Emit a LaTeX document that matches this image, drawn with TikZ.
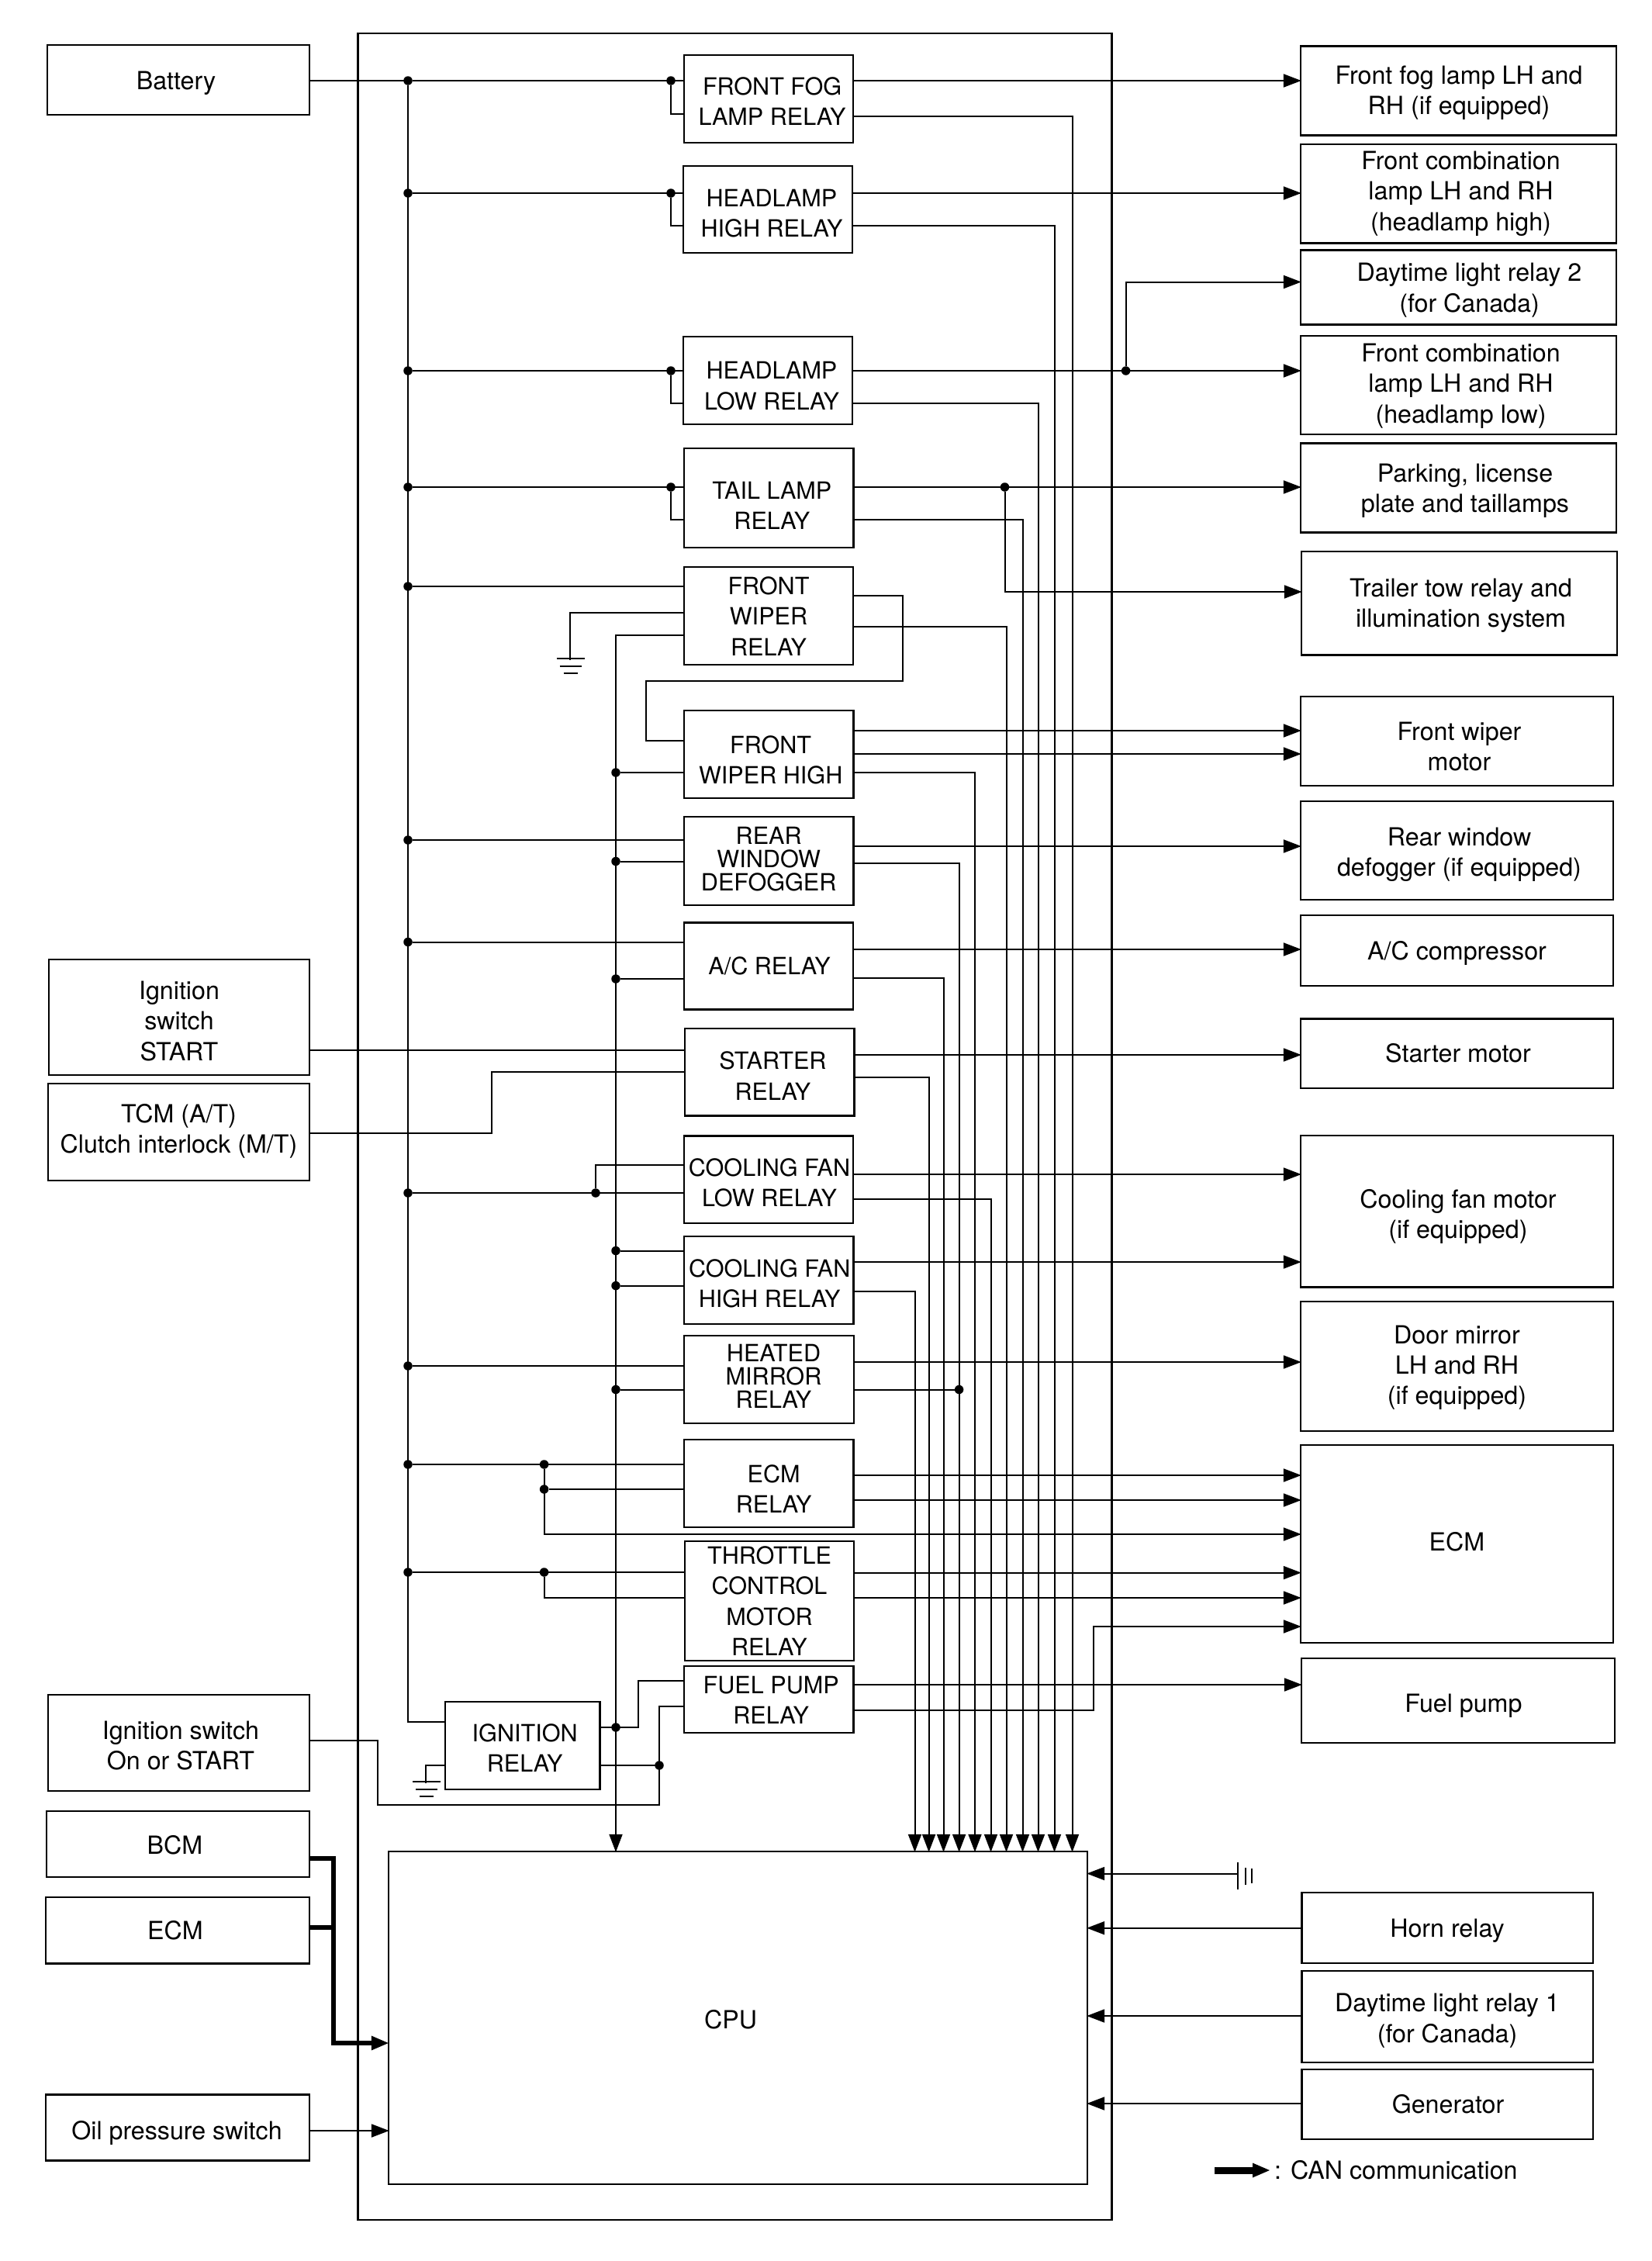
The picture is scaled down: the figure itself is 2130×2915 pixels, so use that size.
\documentclass[tikz,border=0pt]{standalone}
\usepackage{fontspec}
\setmainfont{TeX Gyre Heros}
\usepackage{tikz}
\usetikzlibrary{arrows.meta,positioning,calc}

\tikzset{
  framebox/.style={draw,line width=2.4pt,inner sep=0pt},
  relaytxt/.style={inner sep=0pt,align=center,font=\fontsize{30.6}{39.3}\selectfont},
  outtxt/.style={inner sep=0pt,align=center,font=\fontsize{32.2}{39.3}\selectfont},
  wire/.style={line width=2pt,shorten >=-2pt},
  can/.style={line width=6pt,shorten >=-2pt},
  jdot/.style={circle,fill=black,inner sep=0pt,minimum size=11.5pt},
}

\begin{document}
\begin{tikzpicture}[x=1pt,y=-1pt,>={Triangle[length=23pt,width=17pt]}]
  \useasboundingbox (0,0) rectangle (2130,2915);
  \node[framebox,minimum width=972pt,minimum height=2819pt] (main) at (947.3,1452.3) {};

  \foreach \n/\cx/\cy/\w/\h/\dx/\dy/\txt in {
    fog/991/127.5/218/113/4.6/3/{FRONT FOG\\LAMP RELAY},
    high/990/270/218/112/5/5/{HEADLAMP\\HIGH RELAY},
    low/990/490.5/218/113/5/7/{HEADLAMP\\LOW RELAY},
    tail/991.3/642/218.5/128/4/10/{TAIL LAMP\\RELAY},
    wip/991/794/218/126/0/0.5/{FRONT\\WIPER\\RELAY},
    wiphi/991.2/972.5/218.5/113/2.5/7/{FRONT\\WIPER HIGH},
    rear/991.2/1110/218.5/114/0/-2/{REAR\\[-9.3pt]WINDOW\\[-9.3pt]DEFOGGER},
    ac/991/1245.5/218/112/1/0/{A/C RELAY},
    start/992.4/1382/218.5/112.6/4/5/{STARTER\\RELAY},
    coollow/991/1520.7/218/112.5/1/4/{COOLING FAN\\LOW RELAY},
    coolhi/991.2/1650.5/218.5/113/1/4/{COOLING FAN\\HIGH RELAY},
    heat/991.5/1778.5/218.5/113/6/-4/{HEATED\\[-9.3pt]MIRROR\\[-9.3pt]RELAY},
    ecmr/991.2/1912.5/218.5/113/6.5/7/{ECM\\RELAY},
    thr/992/2064/218/154/0/0/{THROTTLE\\CONTROL\\MOTOR\\RELAY},
    fuel/991.2/2191/218.5/86/3/1/{FUEL PUMP\\RELAY},
    ign/673.7/2250.5/199.5/113/3/3/{IGNITION\\RELAY}} {
    \node[framebox,minimum width=\w pt,minimum height=\h pt] (\n) at (\cx,\cy) {};
    \node[relaytxt] (\n-txt) at ([shift={(\dx,\dy)}]\n.center) {\txt};
  }

  \foreach \n/\cx/\cy/\w/\h/\dx/\dy/\txt in {
    bat/230/103/338/90/-3/4/{Battery},
    igst/231/1311.5/336/148.5/0/5/{Ignition\\switch\\START},
    tcm/230.5/1459.5/337/125/0/-1/{TCM (A/T)\\Clutch interlock (M/T)},
    ignon/230.5/2246.7/337/124/2.5/4/{Ignition switch\\On or START},
    bcm/229.5/2377.5/339/85/-4/1/{BCM},
    ecml/229/2488.7/340/85.4/-3/0/{ECM},
    oil/229/2743/340/84.7/-1/7/{Oil pressure switch},
    flamp/1880.5/117/407/115.3/0.5/3/{Front fog lamp LH and\\RH (if equipped)},
    chigh/1880.5/249.7/407/127.5/3/0/{Front combination\\lamp LH and RH\\(headlamp high)},
    day2/1880.5/370.6/407/96/14/3.5/{Daytime light relay 2\\(for Canada)},
    clow/1880.5/496.5/407/127/3/1/{Front combination\\lamp LH and RH\\(headlamp low)},
    park/1880.5/629/407/114.8/8.5/3.5/{Parking, license\\plate and taillamps},
    trail/1881.5/777.8/407/133.6/2/3/{Trailer tow relay and\\illumination system},
    wipm/1878.5/955.5/403/115/3/7/{Front wiper\\motor},
    def/1878.5/1096.5/403/127/3/5/{Rear window\\defogger (if equipped)},
    acc/1878.5/1225.5/403/91/0/3/{A/C compressor},
    stm/1878.5/1358.2/403/89.5/1.5/0/{Starter motor},
    coolm/1878.5/1561.8/403/195.6/1.5/7/{Cooling fan motor\\(if equipped)},
    mir/1878.5/1761.6/403/167.3/0/1.5/{Door mirror\\LH and RH\\(if equipped)},
    ecmb/1878.5/1990.5/403/255/0/-3/{ECM},
    fpump/1880/2192.5/404/109/7/6.5/{Fuel pump},
    horn/1866/2485.5/375.4/90.7/0/3.5/{Horn relay},
    day1/1866/2600/375.4/117.7/0/5/{Daytime light relay 1\\(for Canada)},
    gen/1866/2712.7/375.4/90/1/0.5/{Generator},
    cpu/951.5/2601.5/901/429/-9.5/2.5/{CPU}} {
    \node[framebox,minimum width=\w pt,minimum height=\h pt] (\n) at (\cx,\cy) {};
    \node[outtxt] (\n-txt) at ([shift={(\dx,\dy)}]\n.center) {\txt};
  }

  % relays fed twice from the upper bus
  \foreach \n/\ya/\yb/\tgt in {fog/104/147/flamp,high/249/291/chigh,low/478/520/clow,tail/628/670/park} {
    \node[jdot] (a\n) at (526,\ya) {};
    \node[jdot] (k\n) at (865,\ya) {};
    \draw[wire] (a\n) -- (\n.west |- a\n);
    \draw[wire] (k\n) |- (\n.west |- 0,\yb);
    \draw[wire,->] (\n.east |- a\n) -- (\tgt.west |- a\n);
  }
  \foreach \n/\y in {wip/756,rear/1083,ac/1214.5,coollow/1538,heat/1761,ecmr/1888,thr/2027} {
    \node[jdot] (a\n) at (526,\y) {};
    \draw[wire] (a\n) -- (\n.west |- a\n);
  }
  \draw[wire] (bat.east |- afog) -- (afog);
  \draw[wire] (afog) |- (ign.west |- 0,2220);

  % second bus, down into the CPU
  \draw[wire,->] (wip.west |- 0,819) -| (794,0 |- cpu.north);
  \foreach \m/\n/\y in {b1/wiphi/996,b2/rear/1110.5,b3/ac/1262,b4/coolhi/1612.5,b5/coolhi/1657.6,b6/heat/1791.5} {
    \node[jdot] (\m) at (794,\y) {};
    \draw[wire] (\m) -- (\n.west |- \m);
  }
  \node[jdot] (bign) at (794,2227) {};
  \node[jdot] (jign) at (850,2276) {};
  \draw[wire] (ign.east |- bign) -| (822.6,2166.7) -- (fuel.west |- 0,2166.7);
  \draw[wire] (ign.east |- jign) -- (jign);
  \draw[wire] (ignon.east |- 0,2243.5) -| (486.6,2327) -- (850,2327) |- (fuel.west |- 0,2200);

  % relay outputs to the loads
  \foreach \src/\tgt/\y in {wiphi/wipm/942,wiphi/wipm/972,rear/def/1091,ac/acc/1224,start/stm/1360,
    coollow/coolm/1514,coolhi/coolm/1627,heat/mir/1756,ecmr/ecmb/1902,ecmr/ecmb/1934,
    thr/ecmb/2027.6,thr/ecmb/2060,fuel/fpump/2172} {
    \draw[wire,->] (\src.east |- 0,\y) -- (\tgt.west |- 0,\y);
  }
  % relay outputs to the CPU
  \foreach \src/\y/\x in {fog/150/1382.5,high/291/1359.5,low/520/1338.5,tail/670/1318.5,wip/808/1297.5,
    wiphi/996/1257,rear/1113/1236.6,ac/1260.5/1216.5,start/1388.6/1197.6,coollow/1545.5/1277.5,coolhi/1665/1179.5} {
    \draw[wire,->] (\src.east |- 0,\y) -| (\x,0 |- cpu.north);
  }
  \node[jdot] (jheat) at (1236.6,1791.5) {};
  \draw[wire] (heat.east |- jheat) -- (jheat);
  \node[jdot] (jday) at (1451.6,478) {};
  \draw[wire,->] (jday) |- (day2.west |- 0,363.5);
  \node[jdot] (jtail) at (1295.5,628) {};
  \draw[wire,->] (jtail) |- (trail.west |- 0,763);

  \draw[wire] (wip.east |- 0,768) -| (1164,877.5) -| (832.5,955) -- (wiphi.west |- 0,955);
  \draw[wire] (igst.east |- 0,1354) -- (start.west |- 0,1354);
  \draw[wire] (tcm.east |- 0,1460.5) -| (634.4,1381.5) -- (start.west |- 0,1381.5);
  \node[jdot] (jlow) at (768,1538) {};
  \draw[wire] (jlow) |- (coollow.west |- 0,1501.6);

  \node[jdot] (e1) at (701.6,1888) {};
  \node[jdot] (e2) at (701.6,1920) {};
  \node[jdot] (e3) at (701.6,2027) {};
  \draw[wire,->] (e1) |- (ecmb.west |- 0,1978);
  \draw[wire] (e2) -- (ecmr.west |- e2);
  \draw[wire] (e3) |- (thr.west |- 0,2060);
  \draw[wire,->] (fuel.east |- 0,2205) -| (1410,2097) -- (ecmb.west |- 0,2097);

  % grounds
  \coordinate (gnda) at (734.5,849);
  \coordinate (gndb) at (549,2297);
  \draw[wire] (wip.west |- 0,790) -| (gnda);
  \draw[wire] (ign.west |- 0,2276) -| (gndb);
  \foreach \g in {gnda,gndb} {
    \foreach \dy/\hw in {0/17,10/13,19/8} {
      \draw[wire] ([shift={(-\hw,\dy)}]\g) -- ([shift={(\hw,\dy)}]\g);
    }
  }
  \coordinate (gndc) at (1596,2415.5);
  \draw[wire,->] (gndc) -- (cpu.east |- gndc);
  \foreach \x/\ya/\yb in {1596/2400.7/2434,1605.5/2408/2428,1614/2409/2426} {
    \draw[wire] (\x,\ya) -- (\x,\yb);
  }

  % CPU inputs
  \foreach \src/\y in {horn/2485.7,day1/2599,gen/2712} {
    \draw[wire,->] (\src.west |- 0,\y) -- (cpu.east |- 0,\y);
  }
  \draw[wire,->] (oil.east |- 0,2747) -- (cpu.west |- 0,2747);
  \draw[can,->] (bcm.east |- 0,2395.7) -| (430,2634) -- (cpu.west |- 0,2634);
  \draw[can] (ecml.east |- 0,2484.6) -- (430,2484.6);

  % legend
  \coordinate (canl) at (1566,2798);
  \node[outtxt,anchor=west,inner xsep=7pt] (legend) at (1636,2798) {: CAN communication};
  \draw[can,line width=9pt,->] (canl) -- (legend.west |- canl);
\end{tikzpicture}
\end{document}
